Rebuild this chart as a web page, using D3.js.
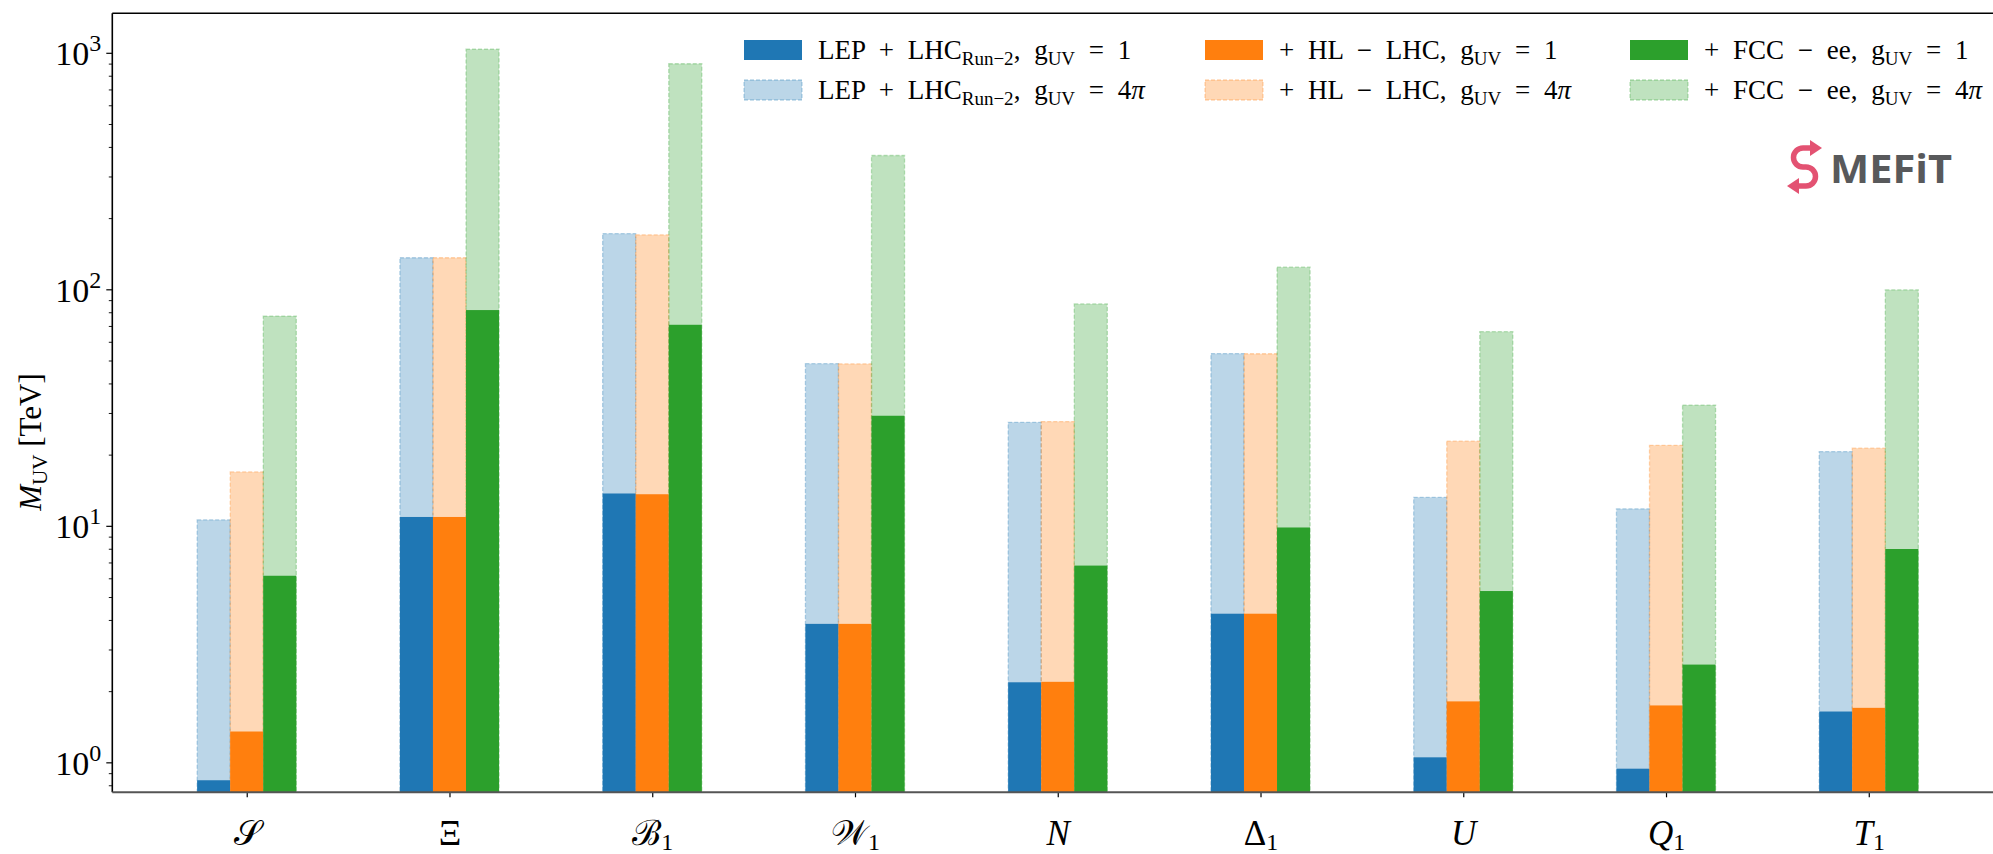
<!DOCTYPE html>
<html>
<head>
<meta charset="utf-8">
<script src="https://cdn.jsdelivr.net/npm/d3@7"></script>
<style>
  body { margin: 0; background: #fff; }
  svg { display: block; }
  text { font-family: "Liberation Serif", "DejaVu Serif", serif; fill: #000; }
  .tick line { stroke: #000; }
</style>
</head>
<body>
<script>
// bounds on the UV scale, per model, in TeV
const categories = ["S", "Xi", "B1", "W1", "N", "Delta1", "U", "Q1", "T1"];
const catLabels = [
  { main: "\u{1D4AE}", sub: "", italic: false },
  { main: "Ξ", sub: "", italic: false },
  { main: "ℬ", sub: "1", italic: false },
  { main: "\u{1D4B2}", sub: "1", italic: false },
  { main: "N", sub: "", italic: true },
  { main: "Δ", sub: "1", italic: false },
  { main: "U", sub: "", italic: true },
  { main: "Q", sub: "1", italic: true },
  { main: "T", sub: "1", italic: true }
];

const lepG1  = [0.84, 10.9, 13.7, 3.85, 2.18, 4.25, 1.05, 0.94, 1.64];
const lepG4  = [10.6, 136, 172, 48.5, 27.4, 53.5, 13.2, 11.8, 20.6];
const hlG1   = [1.35, 10.9, 13.6, 3.85, 2.19, 4.25, 1.81, 1.74, 1.70];
const hlG4   = [16.9, 136, 170, 48.4, 27.6, 53.4, 22.8, 21.9, 21.3];
const fccG1  = [6.15, 81.7, 70.8, 29.2, 6.79, 9.84, 5.30, 2.59, 7.98];
const fccG4  = [77.1, 1035, 899, 368, 86.7, 124, 66.2, 32.4, 99.5];

const yMajor = [1, 10, 100, 1000];

const colors = ["#1f77b4", "#ff7f0e", "#2ca02c"];
const names = ["LEP + LHC", "+ HL − LHC", "+ FCC − ee"];
const strong = [lepG4, hlG4, fccG4];
const weak = [lepG1, hlG1, fccG1];

const width = 1993, height = 854;
const plotLeft = 112.3, plotTop = 13.3, plotBottom = 792.3;

const svg = d3.select("body").append("svg")
  .attr("width", width)
  .attr("height", height);

const x = d3.scaleLinear().domain([-0.663, 8.663]).range([plotLeft, 2003.2]);
const y = d3.scaleLog().domain([0.747, 1469]).range([plotBottom, plotTop]);
const barW = x(0.163) - x(0);

svg.append("clipPath").attr("id", "plot")
  .append("rect")
  .attr("x", plotLeft).attr("y", plotTop)
  .attr("width", width - plotLeft).attr("height", plotBottom - plotTop);

const g = svg.append("g").attr("clip-path", "url(#plot)");

// 4pi bars first, g=1 on top
strong.forEach((vals, k) => {
  g.selectAll(".light" + k)
    .data(vals)
    .enter().append("rect")
    .attr("x", (d, i) => x(i) + (k - 1.5) * barW)
    .attr("y", d => y(d))
    .attr("width", barW)
    .attr("height", d => plotBottom - y(d) + 5)
    .attr("fill", colors[k]).attr("fill-opacity", 0.3)
    .attr("stroke", colors[k]).attr("stroke-opacity", 0.3)
    .attr("stroke-width", 1.3)
    .attr("stroke-dasharray", "4,2");
});
weak.forEach((vals, k) => {
  g.selectAll(".dark" + k)
    .data(vals)
    .enter().append("rect")
    .attr("x", (d, i) => x(i) + (k - 1.5) * barW)
    .attr("y", d => y(d))
    .attr("width", barW)
    .attr("height", d => plotBottom - y(d) + 5)
    .attr("fill", colors[k]);
});

// y axis
const yAxis = svg.append("g")
  .attr("transform", `translate(${plotLeft},0)`)
  .call(d3.axisLeft(y).tickValues(yMajor).tickSize(6).tickPadding(6).tickFormat(""));
yAxis.select(".domain").remove();
yAxis.selectAll(".tick line").attr("stroke-width", 1.2);
yAxis.selectAll(".tick").append("text")
  .attr("x", -11).attr("y", 12)
  .attr("text-anchor", "end")
  .style("font-size", "34px")
  .each(function(d) {
    const t = d3.select(this);
    t.append("tspan").text("10");
    t.append("tspan").attr("dy", -14).style("font-size", "24px").text(Math.round(Math.log10(d)));
  });

const minor = [];
[0.1, 1, 10, 100, 1000].forEach(dec => {
  for (let m = 2; m <= 9; m++) {
    const v = dec * m;
    if (v > 0.747 && v < 1469) minor.push(v);
  }
});
const yMinor = svg.append("g")
  .attr("transform", `translate(${plotLeft},0)`)
  .call(d3.axisLeft(y).tickValues(minor).tickSize(3.5).tickFormat(""));
yMinor.select(".domain").remove();
yMinor.selectAll(".tick line").attr("stroke-width", 0.9);

// x axis
const xAxis = svg.append("g")
  .attr("transform", `translate(0,${plotBottom})`)
  .call(d3.axisBottom(x).tickValues(d3.range(categories.length)).tickSize(5).tickFormat(""));
xAxis.select(".domain").remove();
xAxis.selectAll(".tick line").attr("stroke", "#333").attr("stroke-width", 1.2);
xAxis.selectAll(".tick").append("text")
  .attr("y", 53)
  .attr("text-anchor", "middle")
  .style("font-size", "35px")
  .each(function(d, i) {
    const lab = catLabels[i];
    const t = d3.select(this);
    t.append("tspan").style("font-style", lab.italic ? "italic" : "normal").text(lab.main);
    if (lab.sub) t.append("tspan").attr("dy", 5).style("font-size", "24px").text(lab.sub);
  });

// spines
svg.append("line").attr("x1", plotLeft).attr("x2", plotLeft).attr("y1", plotTop).attr("y2", plotBottom)
  .attr("stroke", "#000").attr("stroke-width", 1.6);
svg.append("line").attr("x1", plotLeft).attr("x2", width).attr("y1", plotTop).attr("y2", plotTop)
  .attr("stroke", "#000").attr("stroke-width", 1.6);
svg.append("line").attr("x1", plotLeft).attr("x2", width).attr("y1", plotBottom).attr("y2", plotBottom)
  .attr("stroke", "#555").attr("stroke-width", 2);

// y label
const yl = svg.append("text")
  .attr("transform", "translate(41,442) rotate(-90)")
  .attr("text-anchor", "middle")
  .style("font-size", "31px");
yl.append("tspan").style("font-style", "italic").text("M");
yl.append("tspan").attr("dy", 6).style("font-size", "21px").text("UV");
yl.append("tspan").attr("dy", -6).text(" [TeV]");

// legend
const colX = [744, 1205, 1630];
const rowY = [50, 90];
const legend = svg.append("g");
[0, 1].forEach(row => {
  colors.forEach((c, k) => {
    const lg = legend.append("g").attr("transform", `translate(${colX[k]},${rowY[row]})`);
    const r = lg.append("rect")
      .attr("x", 0).attr("y", -10).attr("width", 58).attr("height", 20)
      .attr("fill", c);
    if (row === 1) {
      r.attr("fill-opacity", 0.3).attr("stroke", c).attr("stroke-opacity", 0.3)
        .attr("stroke-width", 1.3).attr("stroke-dasharray", "4,2");
    }
    const t = lg.append("text").attr("x", 74).attr("y", 9)
      .style("font-size", "27px").style("word-spacing", "7px");
    t.append("tspan").text(names[k]);
    if (k === 0) {
      t.append("tspan").attr("dy", 6).style("font-size", "19px").style("word-spacing", "0px").text("Run−2");
      t.append("tspan").attr("dy", -6).text(", g");
    } else {
      t.append("tspan").text(", g");
    }
    t.append("tspan").attr("dy", 6).style("font-size", "19px").style("word-spacing", "0px").text("UV");
    t.append("tspan").attr("dy", -6).text(" = ");
    if (row === 0) {
      t.append("tspan").text("1");
    } else {
      t.append("tspan").text("4");
      t.append("tspan").style("font-style", "italic").text("π");
    }
  });
});

// MEFiT logo
const logo = svg.append("g");
logo.append("path")
  .attr("d", "M1812,148 L1803,148 A9.5,9.5 0 0 0 1803,167 L1806,167 A9.5,9.5 0 0 1 1806,186 L1797,186")
  .attr("fill", "none").attr("stroke", "#e35272").attr("stroke-width", 5.5);
logo.append("path")
  .attr("d", "M1810,140 L1822,148 L1810,156 Z")
  .attr("fill", "#e35272");
logo.append("path")
  .attr("d", "M1799,178 L1787,186 L1799,194 Z")
  .attr("fill", "#e35272");
logo.append("text")
  .attr("x", 1830).attr("y", 183)
  .attr("textLength", 122).attr("lengthAdjust", "spacingAndGlyphs")
  .style("font-family", "'Open Sans', 'DejaVu Sans', sans-serif")
  .style("font-weight", "bold").style("font-size", "39px")
  .style("fill", "#58595b")
  .text("MEFiT");
</script>
</body>
</html>
